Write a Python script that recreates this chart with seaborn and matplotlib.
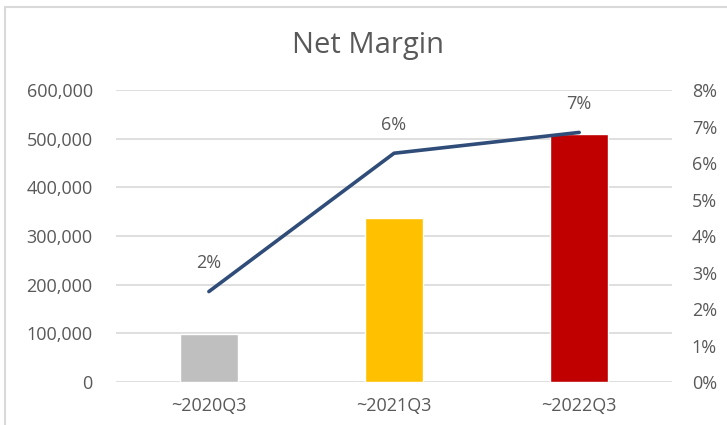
import matplotlib
matplotlib.use("Agg")
import matplotlib.pyplot as plt
import matplotlib.ticker as mticker
from matplotlib.patches import Rectangle
import seaborn as sns

# Data
quarters = ['~2020Q3', '~2021Q3', '~2022Q3']
net_profit = [99000, 337000, 509000]
net_margin = [0.0248, 0.0627, 0.0684]
margin_labels = ['2%', '6%', '7%']
bar_colors = ['#BFBFBF', '#FFC000', '#C00000']

sns.set_theme(style='white')
plt.rcParams['font.family'] = ['Open Sans', 'DejaVu Sans']
text_gray = '#595959'
fs = 13

fig = plt.figure(figsize=(7.27, 4.25), dpi=100)
ax = fig.add_axes([0.160, 0.101, 0.764, 0.687])

# outer chart frame (cut off on the right and bottom in the reference)
fig.patches.append(Rectangle((5 / 727, -0.05), 1.2, 1 - 7 / 425 + 0.05, transform=fig.transFigure,
                             fill=False, edgecolor='#D9D9D9', linewidth=1.5))

sns.barplot(x=quarters, y=net_profit, hue=quarters, palette=bar_colors,
            width=0.315, legend=False, saturation=1, ax=ax)
ax.set_ylim(0, 600000)
ax.set_yticks(range(0, 600001, 100000))
ax.yaxis.set_major_formatter(mticker.StrMethodFormatter('{x:,.0f}'))
ax.grid(axis='y', color='#D9D9D9', linewidth=1.2)
ax.set_axisbelow(True)
for s in ax.spines.values():
    s.set_visible(False)
ax.tick_params(axis='both', colors=text_gray, labelsize=fs, length=0)
ax.tick_params(axis='x', pad=11)
ax.tick_params(axis='y', pad=17)
ax.set_xlim(-0.5, 2.5)

# net margin line on the secondary axis
ax2 = ax.twinx()
sns.lineplot(x=[0, 1, 2], y=net_margin, color='#2F4D78', linewidth=2.6, ax=ax2,
             solid_capstyle='round')
ax2.set_ylim(0, 0.08)
ax2.set_yticks([i / 100 for i in range(9)])
ax2.yaxis.set_major_formatter(mticker.PercentFormatter(1.0, decimals=0))
ax2.tick_params(axis='y', colors=text_gray, labelsize=fs, length=0, pad=14.5)
for s in ax2.spines.values():
    s.set_visible(False)
ax2.set_xlim(-0.5, 2.5)
for i, (v, lab) in enumerate(zip(net_margin, margin_labels)):
    ax2.annotate(lab, (i, v), xytext=(0, 14), textcoords='offset points',
                 ha='center', va='bottom', color=text_gray, fontsize=fs)

fig.text(0.506, 0.893, 'Net Margin', ha='center', va='center', fontsize=21, color=text_gray)

fig.savefig('out.png', dpi=100)
